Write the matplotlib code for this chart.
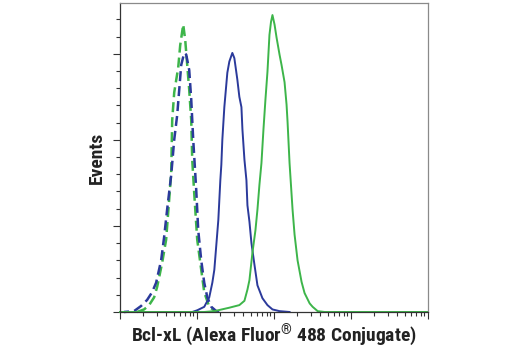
import numpy as np
import matplotlib
matplotlib.use('Agg')
import matplotlib.pyplot as plt
from matplotlib.ticker import LogLocator, MultipleLocator, NullFormatter

# Histogramme (log10 der Intensitaet, Ereignisse)
blue_solid_log = [0.938, 1.003, 1.094, 1.159, 1.199, 1.225, 1.251, 1.277, 1.290, 1.303, 1.316,
                  1.329, 1.355, 1.394, 1.420, 1.459, 1.485, 1.524, 1.550, 1.577, 1.590, 1.616,
                  1.642, 1.655, 1.681, 1.707, 1.746, 1.785, 1.850, 1.915, 1.980, 2.072, 2.202]
blue_solid_cnt = [0, 2, 6, 17, 34, 49, 78, 107, 130, 153, 171,
                  200, 238, 278, 291, 301, 295, 270, 250, 238, 212, 177,
                  153, 124, 105, 80, 55, 31, 16, 8, 3, 1, 0]

green_solid_log = [0.0, 1.094, 1.225, 1.420, 1.550, 1.616, 1.655, 1.681, 1.720, 1.759, 1.785,
                   1.811, 1.837, 1.863, 1.889, 1.915, 1.941, 1.961, 1.980, 2.007, 2.033,
                   2.072, 2.098, 2.137, 2.163, 2.176, 2.202, 2.241, 2.267, 2.306, 2.358,
                   2.397, 2.463, 2.502, 2.567, 2.658, 4.0]
green_solid_cnt = [0, 0, 1, 5, 8, 13, 26, 37, 69, 95, 119,
                   148, 173, 212, 247, 279, 322, 337, 345, 334, 319,
                   299, 287, 267, 241, 221, 173, 119, 90, 60, 35,
                   22, 10, 6, 1, 0, 0]

blue_dash_log = [0.052, 0.182, 0.274, 0.352, 0.417, 0.469, 0.534, 0.573, 0.612, 0.665, 0.704,
                 0.743, 0.769, 0.795, 0.834, 0.860, 0.899, 0.925, 0.951, 0.990, 1.016,
                 1.055, 1.094, 1.134, 1.186, 1.251, 1.316]
blue_dash_cnt = [0, 1, 7, 14, 23, 34, 60, 87, 119, 159, 200,
                 229, 258, 287, 301, 299, 281, 247, 200, 142, 95,
                 60, 34, 17, 6, 1, 0]

green_dash_log = [0.222, 0.313, 0.378, 0.443, 0.482, 0.547, 0.599, 0.638, 0.665, 0.678, 0.704,
                  0.756, 0.782, 0.821, 0.847, 0.873, 0.899, 0.925, 0.938, 0.964, 1.003,
                  1.055, 1.094, 1.159, 1.251]
green_dash_cnt = [0, 3, 8, 17, 29, 57, 84, 130, 162, 223, 255,
                  284, 310, 334, 316, 287, 258, 223, 177, 138, 84,
                  49, 23, 6, 0]

blue = '#2b3a9b'
green = '#3db54a'

plt.rcParams['mathtext.fontset'] = 'custom'
plt.rcParams['mathtext.default'] = 'regular'

fig = plt.figure(figsize=(5.2, 3.5), dpi=100)
ax = fig.add_axes([120/520, 1-312/350, 308/520, 309/350])

ax.plot(10**np.array(green_dash_log), green_dash_cnt, color=green, lw=1.8,
        ls=(0, (4, 2)), clip_on=False)
ax.plot(10**np.array(blue_dash_log), blue_dash_cnt, color=blue, lw=1.8,
        ls=(2, (4, 2)), clip_on=False)
ax.plot(10**np.array(blue_solid_log), blue_solid_cnt, color=blue, lw=1.4, clip_on=False)
ax.plot(10**np.array(green_solid_log), green_solid_cnt, color=green, lw=1.4, clip_on=False)

ax.set_xscale('log')
ax.set_xlim(1, 1e4)
ax.set_ylim(0, 359)
ax.xaxis.set_major_locator(LogLocator(base=10, numticks=10))
ax.xaxis.set_minor_locator(LogLocator(base=10, subs=np.arange(2, 10), numticks=100))
ax.xaxis.set_major_formatter(NullFormatter())
ax.xaxis.set_minor_formatter(NullFormatter())
ax.yaxis.set_major_locator(MultipleLocator(100))
ax.yaxis.set_minor_locator(MultipleLocator(20))
ax.yaxis.set_major_formatter(NullFormatter())

ax.tick_params(which='major', direction='out', length=5, width=0.8, color='#333333')
ax.tick_params(which='minor', direction='out', length=3, width=0.8, color='#333333')

for s in ['left', 'bottom']:
    ax.spines[s].set_color('#333333')
    ax.spines[s].set_linewidth(0.9)
for s in ['top', 'right']:
    ax.spines[s].set_color('#8a8a8a')
    ax.spines[s].set_linewidth(0.9)

fam = ['Roboto Condensed', 'DejaVu Sans']
ax.set_xlabel('Bcl-xL (Alexa Fluor$^{®}$ 488 Conjugate)', family=fam,
              fontweight='bold', fontsize=14, color='#222222', labelpad=-1.5)
ax.set_ylabel('Events', family=fam, fontweight='bold', fontsize=14,
              color='#222222', labelpad=1.5)

fig.savefig('out.png', dpi=100)
